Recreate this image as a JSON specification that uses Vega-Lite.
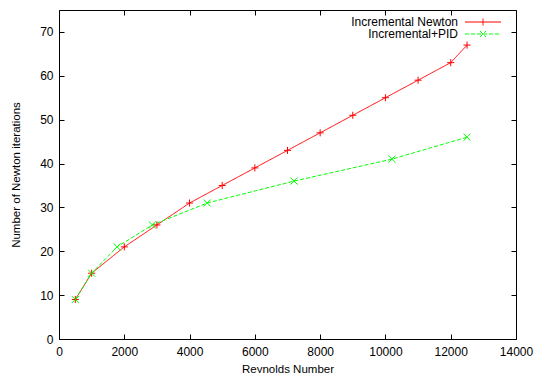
{
  "$schema": "https://vega.github.io/schema/vega-lite/v6.json",
  "width": 457,
  "height": 329,
  "autosize": {"type": "none"},
  "padding": {"left": 59, "top": 10, "right": 26, "bottom": 34},
  "background": "white",
  "config": {
    "font": "Liberation Sans",
    "view": {"stroke": "black", "strokeWidth": 1},
    "axis": {
      "domain": false,
      "grid": false,
      "tickSize": -5,
      "tickColor": "black",
      "tickWidth": 1,
      "labelColor": "black",
      "labelFont": "Liberation Sans",
      "labelFontSize": 12,
      "titleFont": "Liberation Sans",
      "titleFontSize": 11.5,
      "titleFontWeight": "normal",
      "titleColor": "black"
    }
  },
  "data": {
    "values": [
      {"Re": 500, "iter": 9, "method": "Incremental Newton"},
      {"Re": 1000, "iter": 15, "method": "Incremental Newton"},
      {"Re": 2000, "iter": 21, "method": "Incremental Newton"},
      {"Re": 3000, "iter": 26, "method": "Incremental Newton"},
      {"Re": 4000, "iter": 31, "method": "Incremental Newton"},
      {"Re": 5000, "iter": 35, "method": "Incremental Newton"},
      {"Re": 6000, "iter": 39, "method": "Incremental Newton"},
      {"Re": 7000, "iter": 43, "method": "Incremental Newton"},
      {"Re": 8000, "iter": 47, "method": "Incremental Newton"},
      {"Re": 9000, "iter": 51, "method": "Incremental Newton"},
      {"Re": 10000, "iter": 55, "method": "Incremental Newton"},
      {"Re": 11000, "iter": 59, "method": "Incremental Newton"},
      {"Re": 12000, "iter": 63, "method": "Incremental Newton"},
      {"Re": 12500, "iter": 67, "method": "Incremental Newton"},
      {"Re": 500, "iter": 9, "method": "Incremental+PID"},
      {"Re": 1000, "iter": 15, "method": "Incremental+PID"},
      {"Re": 1780, "iter": 21, "method": "Incremental+PID"},
      {"Re": 2860, "iter": 26, "method": "Incremental+PID"},
      {"Re": 4540, "iter": 31, "method": "Incremental+PID"},
      {"Re": 7200, "iter": 36, "method": "Incremental+PID"},
      {"Re": 10200, "iter": 41, "method": "Incremental+PID"},
      {"Re": 12500, "iter": 46, "method": "Incremental+PID"}
    ]
  },
  "layer": [
    {
      "mark": {"type": "line", "strokeWidth": 1},
      "encoding": {
        "x": {
          "field": "Re", "type": "quantitative",
          "scale": {"domain": [0, 14000], "nice": false},
          "axis": {"orient": "bottom", "values": [0, 2000, 4000, 6000, 8000, 10000, 12000, 14000], "format": "d", "labelPadding": 12, "title": "Reynolds Number", "titlePadding": 6, "labelFlush": false, "labelOverlap": false}
        },
        "y": {
          "field": "iter", "type": "quantitative",
          "scale": {"domain": [0, 75], "nice": false},
          "axis": {"orient": "left", "values": [0, 10, 20, 30, 40, 50, 60, 70], "labelPadding": 11, "title": "Number of Newton iterations", "titlePadding": 18}
        },
        "color": {
          "field": "method", "type": "nominal",
          "scale": {"domain": ["Incremental Newton", "Incremental+PID"], "range": ["#ff0000", "#00ff00"]},
          "legend": {
            "orient": "none", "legendX": 418, "legendY": 6, "title": null,
            "symbolType": "stroke", "symbolSize": 100, "symbolStrokeWidth": 1,
            "labelAlign": "right", "labelOffset": -31, "labelFontSize": 12,
            "labelColor": "black", "labelFont": "Liberation Sans", "rowPadding": 0, "padding": 0,
            "encode": {"symbols": {"update": {
              "shape": {"signal": "datum.value === 'Incremental Newton' ? 'M-3.6,0L3.6,0M0,-0.7L0,0.7' : 'M-3.6,0L3.6,0M-0.6,-0.6L0.6,0.6M-0.6,0.6L0.6,-0.6'"},
              "strokeDash": {"signal": "datum.value === 'Incremental+PID' ? [4, 2] : [1, 0]"}
            }}}
          }
        },
        "strokeDash": {
          "field": "method", "type": "nominal",
          "scale": {"domain": ["Incremental Newton", "Incremental+PID"], "range": [[1, 0], [4, 2]]},
          "legend": null
        }
      }
    },
    {
      "transform": [{"filter": "datum.method === 'Incremental Newton'"}],
      "mark": {"type": "point", "filled": false, "strokeWidth": 1, "size": 50, "opacity": 1, "shape": "M-1,0L1,0M0,-1L0,1"},
      "encoding": {
        "x": {
          "field": "Re", "type": "quantitative",
          "axis": {"orient": "top", "values": [0, 2000, 4000, 6000, 8000, 10000, 12000, 14000], "labels": false, "title": null}
        },
        "y": {
          "field": "iter", "type": "quantitative",
          "axis": {"orient": "right", "values": [0, 10, 20, 30, 40, 50, 60, 70], "labels": false, "title": null}
        },
        "color": {"field": "method", "type": "nominal", "legend": null}
      }
    },
    {
      "transform": [{"filter": "datum.method === 'Incremental+PID'"}],
      "mark": {"type": "point", "filled": false, "strokeWidth": 1, "size": 50, "opacity": 1, "shape": "M-1,-1L1,1M-1,1L1,-1"},
      "encoding": {
        "x": {"field": "Re", "type": "quantitative", "axis": null},
        "y": {"field": "iter", "type": "quantitative", "axis": null},
        "color": {"field": "method", "type": "nominal", "legend": null}
      }
    }
  ],
  "resolve": {
    "axis": {"x": "independent", "y": "independent"}
  }
}
